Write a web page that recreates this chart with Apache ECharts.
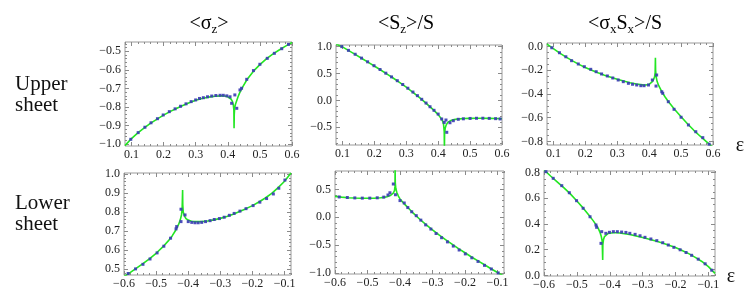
<!DOCTYPE html>
<html><head><meta charset="utf-8">
<script src="https://cdn.jsdelivr.net/npm/echarts@6/dist/echarts.min.js"></script>
<style>html,body{margin:0;padding:0;background:#fff}#c{width:747px;height:301px}</style>
</head><body><div id="c"></div>
<script>
// ---- tick labels ----
const topXTicks = [0.1, 0.2, 0.3, 0.4, 0.5, 0.6];
const botXTicks = [-0.6, -0.5, -0.4, -0.3, -0.2, -0.1];
const yTicks1 = [-1.0, -0.9, -0.8, -0.7, -0.6, -0.5];
const yTicks2 = [-0.5, 0.0, 0.5, 1.0];
const yTicks3 = [-0.8, -0.6, -0.4, -0.2, 0.0];
const yTicks4 = [0.5, 0.6, 0.7, 0.8, 0.9, 1.0];
const yTicks5 = [-1.0, -0.5, 0.0, 0.5];
const yTicks6 = [0.0, 0.2, 0.4, 0.6, 0.8];

// ---- Upper sheet, <sigma_z> ----
const line1 = [[0.08,-1.008],[0.10,-0.970],[0.12,-0.939],[0.14,-0.912],[0.16,-0.887],[0.18,-0.865],[0.20,-0.844],[0.22,-0.825],[0.24,-0.808],[0.26,-0.792],[0.28,-0.777],[0.30,-0.764],[0.32,-0.754],[0.34,-0.747],[0.36,-0.742],[0.38,-0.740],[0.39,-0.741],[0.40,-0.745],[0.405,-0.749],[0.41,-0.757],[0.414,-0.768],[0.417,-0.785],[0.419,-0.815],[0.4196,-0.915],[0.4202,-0.84],[0.4215,-0.805],[0.424,-0.785],[0.428,-0.765],[0.432,-0.745],[0.436,-0.728],[0.44,-0.713],[0.448,-0.688],[0.46,-0.652],[0.48,-0.607],[0.50,-0.572],[0.52,-0.541],[0.54,-0.515],[0.56,-0.493],[0.58,-0.472],[0.60,-0.453]];
const dots1 = [[0.098,-0.974],[0.121,-0.938],[0.142,-0.909],[0.161,-0.885],[0.181,-0.863],[0.199,-0.843],[0.218,-0.825],[0.236,-0.810],[0.253,-0.796],[0.270,-0.783],[0.286,-0.771],[0.300,-0.762],[0.312,-0.754],[0.324,-0.750],[0.337,-0.745],[0.350,-0.741],[0.363,-0.738],[0.376,-0.737],[0.386,-0.737],[0.397,-0.740],[0.407,-0.745],[0.412,-0.780],[0.422,-0.735],[0.428,-0.807],[0.438,-0.708],[0.443,-0.699],[0.459,-0.651],[0.480,-0.604],[0.500,-0.570],[0.523,-0.538],[0.545,-0.511],[0.568,-0.486],[0.589,-0.463]];

// ---- Upper sheet, <S_z>/S ----
const line2 = [[0.08,1.05],[0.10,0.995],[0.12,0.925],[0.14,0.855],[0.16,0.784],[0.18,0.712],[0.20,0.640],[0.22,0.565],[0.24,0.489],[0.26,0.411],[0.28,0.330],[0.30,0.245],[0.32,0.155],[0.34,0.060],[0.36,-0.043],[0.38,-0.150],[0.39,-0.205],[0.40,-0.265],[0.405,-0.30],[0.41,-0.34],[0.414,-0.385],[0.417,-0.45],[0.419,-0.58],[0.4196,-0.9],[0.4202,-0.62],[0.422,-0.52],[0.425,-0.46],[0.43,-0.41],[0.44,-0.375],[0.45,-0.358],[0.46,-0.348],[0.48,-0.338],[0.50,-0.334],[0.52,-0.332],[0.54,-0.332],[0.56,-0.334],[0.58,-0.338],[0.60,-0.343]];
const dots2 = [[0.098,1.000],[0.119,0.930],[0.140,0.858],[0.160,0.786],[0.179,0.717],[0.199,0.645],[0.218,0.574],[0.236,0.506],[0.254,0.437],[0.272,0.366],[0.289,0.295],[0.305,0.226],[0.321,0.155],[0.335,0.088],[0.3485,0.020],[0.362,-0.050],[0.3745,-0.118],[0.387,-0.185],[0.400,-0.255],[0.411,-0.346],[0.419,-0.410],[0.4245,-0.365],[0.427,-0.594],[0.437,-0.416],[0.4475,-0.378],[0.463,-0.352],[0.479,-0.343],[0.500,-0.336],[0.520,-0.333],[0.540,-0.332],[0.560,-0.335],[0.580,-0.340],[0.594,-0.345]];

// ---- Upper sheet, <sigma_x S_x>/S ----
const line3 = [[0.08,0.02],[0.10,-0.018],[0.12,-0.055],[0.14,-0.089],[0.16,-0.121],[0.18,-0.150],[0.20,-0.176],[0.22,-0.199],[0.24,-0.221],[0.26,-0.241],[0.28,-0.259],[0.30,-0.276],[0.32,-0.291],[0.34,-0.305],[0.36,-0.316],[0.38,-0.323],[0.39,-0.324],[0.40,-0.318],[0.405,-0.31],[0.41,-0.295],[0.414,-0.277],[0.417,-0.255],[0.4188,-0.22],[0.4196,-0.095],[0.4202,-0.2],[0.422,-0.255],[0.425,-0.295],[0.43,-0.33],[0.44,-0.382],[0.45,-0.425],[0.46,-0.463],[0.48,-0.53],[0.50,-0.592],[0.52,-0.651],[0.54,-0.706],[0.56,-0.756],[0.58,-0.803],[0.60,-0.85]];
const dots3 = [[0.095,-0.010],[0.119,-0.052],[0.139,-0.086],[0.157,-0.119],[0.178,-0.147],[0.197,-0.170],[0.217,-0.192],[0.234,-0.212],[0.251,-0.231],[0.269,-0.248],[0.286,-0.265],[0.303,-0.282],[0.319,-0.296],[0.335,-0.310],[0.348,-0.318],[0.361,-0.324],[0.374,-0.330],[0.384,-0.330],[0.398,-0.324],[0.410,-0.282],[0.4235,-0.240],[0.4215,-0.333],[0.4395,-0.381],[0.4425,-0.394],[0.460,-0.465],[0.478,-0.529],[0.500,-0.596],[0.523,-0.661],[0.546,-0.718],[0.568,-0.768],[0.588,-0.823]];

// ---- Lower sheet, <sigma_z> ----
const line4 = [[-0.60,0.462],[-0.58,0.484],[-0.56,0.507],[-0.54,0.531],[-0.52,0.556],[-0.50,0.584],[-0.48,0.616],[-0.46,0.653],[-0.45,0.675],[-0.44,0.702],[-0.43,0.735],[-0.425,0.758],[-0.421,0.785],[-0.419,0.815],[-0.4175,0.916],[-0.417,0.84],[-0.4155,0.80],[-0.412,0.78],[-0.407,0.766],[-0.40,0.758],[-0.39,0.752],[-0.38,0.75],[-0.36,0.75],[-0.34,0.753],[-0.32,0.759],[-0.30,0.767],[-0.28,0.777],[-0.26,0.789],[-0.24,0.803],[-0.22,0.818],[-0.20,0.834],[-0.18,0.853],[-0.16,0.874],[-0.14,0.898],[-0.12,0.928],[-0.10,0.962],[-0.08,1.005]];
const dots4 = [[-0.587,0.478],[-0.564,0.502],[-0.541,0.526],[-0.519,0.554],[-0.497,0.586],[-0.476,0.621],[-0.455,0.663],[-0.438,0.712],[-0.436,0.724],[-0.4225,0.815],[-0.4225,0.750],[-0.410,0.785],[-0.400,0.750],[-0.389,0.746],[-0.379,0.744],[-0.369,0.744],[-0.358,0.746],[-0.346,0.750],[-0.332,0.755],[-0.319,0.761],[-0.303,0.766],[-0.288,0.773],[-0.272,0.783],[-0.257,0.793],[-0.239,0.805],[-0.220,0.818],[-0.198,0.834],[-0.177,0.852],[-0.156,0.871],[-0.135,0.895],[-0.118,0.925],[-0.099,0.968]];

// ---- Lower sheet, <S_z>/S ----
const line5 = [[-0.60,0.375],[-0.58,0.362],[-0.56,0.352],[-0.54,0.346],[-0.52,0.342],[-0.50,0.341],[-0.48,0.343],[-0.46,0.350],[-0.45,0.357],[-0.44,0.368],[-0.43,0.390],[-0.425,0.410],[-0.42,0.440],[-0.417,0.480],[-0.4155,0.55],[-0.415,0.86],[-0.4145,0.62],[-0.413,0.52],[-0.41,0.45],[-0.405,0.38],[-0.40,0.33],[-0.39,0.26],[-0.38,0.20],[-0.37,0.14],[-0.36,0.08],[-0.34,-0.03],[-0.32,-0.13],[-0.30,-0.225],[-0.28,-0.315],[-0.26,-0.40],[-0.24,-0.48],[-0.22,-0.56],[-0.20,-0.635],[-0.18,-0.71],[-0.16,-0.78],[-0.14,-0.85],[-0.12,-0.92],[-0.10,-0.988],[-0.08,-1.055]];
const dots5 = [[-0.587,0.365],[-0.562,0.355],[-0.539,0.348],[-0.516,0.344],[-0.493,0.344],[-0.470,0.350],[-0.450,0.362],[-0.437,0.400],[-0.431,0.440],[-0.4206,0.597],[-0.414,0.405],[-0.400,0.300],[-0.387,0.257],[-0.376,0.175],[-0.364,0.100],[-0.350,0.030],[-0.336,-0.050],[-0.321,-0.135],[-0.305,-0.210],[-0.289,-0.290],[-0.272,-0.365],[-0.254,-0.440],[-0.236,-0.515],[-0.218,-0.585],[-0.199,-0.655],[-0.179,-0.725],[-0.160,-0.790],[-0.140,-0.860],[-0.119,-0.925],[-0.098,-0.995]];

// ---- Lower sheet, <sigma_x S_x>/S ----
const line6 = [[-0.60,0.82],[-0.58,0.773],[-0.56,0.728],[-0.54,0.683],[-0.52,0.634],[-0.50,0.579],[-0.48,0.521],[-0.46,0.457],[-0.45,0.424],[-0.44,0.387],[-0.435,0.365],[-0.43,0.337],[-0.426,0.305],[-0.423,0.265],[-0.4215,0.12],[-0.421,0.24],[-0.419,0.28],[-0.416,0.302],[-0.412,0.317],[-0.405,0.326],[-0.40,0.329],[-0.39,0.332],[-0.38,0.332],[-0.37,0.330],[-0.36,0.326],[-0.34,0.318],[-0.32,0.307],[-0.30,0.294],[-0.28,0.281],[-0.26,0.267],[-0.24,0.252],[-0.22,0.235],[-0.20,0.216],[-0.18,0.194],[-0.16,0.169],[-0.14,0.140],[-0.12,0.108],[-0.10,0.068],[-0.08,0.015]];
const dots6 = [[-0.594,0.807],[-0.572,0.755],[-0.546,0.698],[-0.523,0.643],[-0.501,0.581],[-0.481,0.522],[-0.460,0.456],[-0.442,0.392],[-0.440,0.374],[-0.4267,0.249],[-0.4245,0.340],[-0.412,0.327],[-0.401,0.335],[-0.389,0.340],[-0.377,0.340],[-0.364,0.337],[-0.351,0.334],[-0.339,0.327],[-0.323,0.319],[-0.308,0.308],[-0.293,0.296],[-0.275,0.283],[-0.257,0.270],[-0.239,0.254],[-0.222,0.236],[-0.205,0.218],[-0.186,0.199],[-0.168,0.178],[-0.151,0.156],[-0.131,0.126],[-0.110,0.090],[-0.090,0.040]];

const panels = [
  {grid:{left:125,top:42,width:167,height:104}, x:[0.08,0.6], xt:topXTicks, xm:0.02, y:[-1.01,-0.45], yt:yTicks1, ym:0.02, line:line1, dots:dots1},
  {grid:{left:336,top:45,width:166,height:100}, x:[0.08,0.6], xt:topXTicks, xm:0.02, y:[-0.83,1.03], yt:yTicks2, ym:0.1, line:line2, dots:dots2},
  {grid:{left:547,top:43,width:166,height:102}, x:[0.08,0.6], xt:topXTicks, xm:0.02, y:[-0.83,0.03], yt:yTicks3, ym:0.05, line:line3, dots:dots3},
  {grid:{left:124,top:173,width:167,height:102}, x:[-0.6,-0.08], xt:botXTicks, xm:0.02, y:[0.47,1.005], yt:yTicks4, ym:0.02, line:line4, dots:dots4},
  {grid:{left:335,top:171,width:169,height:103}, x:[-0.6,-0.08], xt:botXTicks, xm:0.02, y:[-1.015,0.83], yt:yTicks5, ym:0.1, line:line5, dots:dots5},
  {grid:{left:544,top:171,width:171,height:105}, x:[-0.6,-0.08], xt:botXTicks, xm:0.02, y:[-0.005,0.812], yt:yTicks6, ym:0.05, line:line6, dots:dots6}
];

const FONT = '"Liberation Serif","Times New Roman",serif';
function fmt(v){ const r = Math.round(v*10)/10; return (r < 0 ? '\u2212' : '') + Math.abs(r).toFixed(1); }
function minors(min, max, step, majors){
  const out = [];
  for (let k = Math.ceil(min/step - 1e-9); k <= Math.floor(max/step + 1e-9); k++){
    const v = Math.round(k*step*1e6)/1e6;
    if (!majors.some(m => Math.abs(m - v) < 1e-6)) out.push(v);
  }
  return out;
}
function axis(gi, pos, range, vals, len, labels){
  const a = {
    type:'value', gridIndex:gi, position:pos, min:range[0], max:range[1],
    axisLine:{show:false, onZero:false}, splitLine:{show:false},
    axisTick:{show:true, inside:true, length:len, lineStyle:{color:'#8a8a8a', width:1}, customValues:vals},
    axisLabel:{show:false}
  };
  if (labels){
    a.axisLabel = {show:true, customValues:vals, formatter:fmt, fontFamily:FONT, fontSize:12, color:'#222',
      margin:(pos==='bottom'?3:4)};
  }
  return a;
}

const grid = [], xAxis = [], yAxis = [], series = [];
panels.forEach((p, i) => {
  grid.push(Object.assign({show:true, borderColor:'#9a9a9a', borderWidth:1, backgroundColor:'transparent'}, p.grid));
  const xmin = minors(p.x[0], p.x[1], p.xm, p.xt);
  const ymin = minors(p.y[0], p.y[1], p.ym, p.yt);
  xAxis.push(axis(i,'bottom',p.x,p.xt,4,true), axis(i,'bottom',p.x,xmin,2,false), axis(i,'top',p.x,p.xt,4,false), axis(i,'top',p.x,xmin,2,false));
  yAxis.push(axis(i,'left',p.y,p.yt,4,true), axis(i,'left',p.y,ymin,2,false), axis(i,'right',p.y,p.yt,4,false), axis(i,'right',p.y,ymin,2,false));
  series.push({type:'line', xAxisIndex:4*i, yAxisIndex:4*i, data:p.line, showSymbol:false, clip:true,
    lineStyle:{color:'#22e622', width:1.6}, z:2, silent:true});
  series.push({type:'scatter', xAxisIndex:4*i, yAxisIndex:4*i, data:p.dots, symbol:'rect', symbolSize:3, clip:true,
    itemStyle:{color:'#3a3ab4', opacity:0.9}, z:3, silent:true});
});

const richMain = {fontSize:20, fontFamily:FONT, color:'#111'};
const richSub = {fontSize:13, fontFamily:FONT, color:'#111', padding:[12,0,0,0]};
function titleText(x, text){
  return {type:'text', x:x, y:24, style:{text:text, rich:{a:richMain, s:richSub}, align:'center', verticalAlign:'middle'}};
}
const graphic = [
  titleText(209, '{a|<σ}{s|z}{a|>}'),
  titleText(406, '{a|<S}{s|z}{a|>/S}'),
  titleText(625, '{a|<σ}{s|x}{a|S}{s|x}{a|>/S}'),
  {type:'text', x:15, y:74, style:{text:'Upper\nsheet', font:'21px '+FONT, lineHeight:21, fill:'#111', align:'left', verticalAlign:'top'}},
  {type:'text', x:15, y:193, style:{text:'Lower\nsheet', font:'21px '+FONT, lineHeight:21, fill:'#111', align:'left', verticalAlign:'top'}},
  {type:'text', x:740, y:146, style:{text:'ε', font:'20px '+FONT, fill:'#111', align:'center', verticalAlign:'middle'}},
  {type:'text', x:731, y:277, style:{text:'ε', font:'20px '+FONT, fill:'#111', align:'center', verticalAlign:'middle'}}
];

const chart = echarts.init(document.getElementById('c'), null, {renderer:'canvas'});
chart.setOption({animation:false, backgroundColor:'#fff', grid, xAxis, yAxis, series, graphic});
</script>
</body></html>
